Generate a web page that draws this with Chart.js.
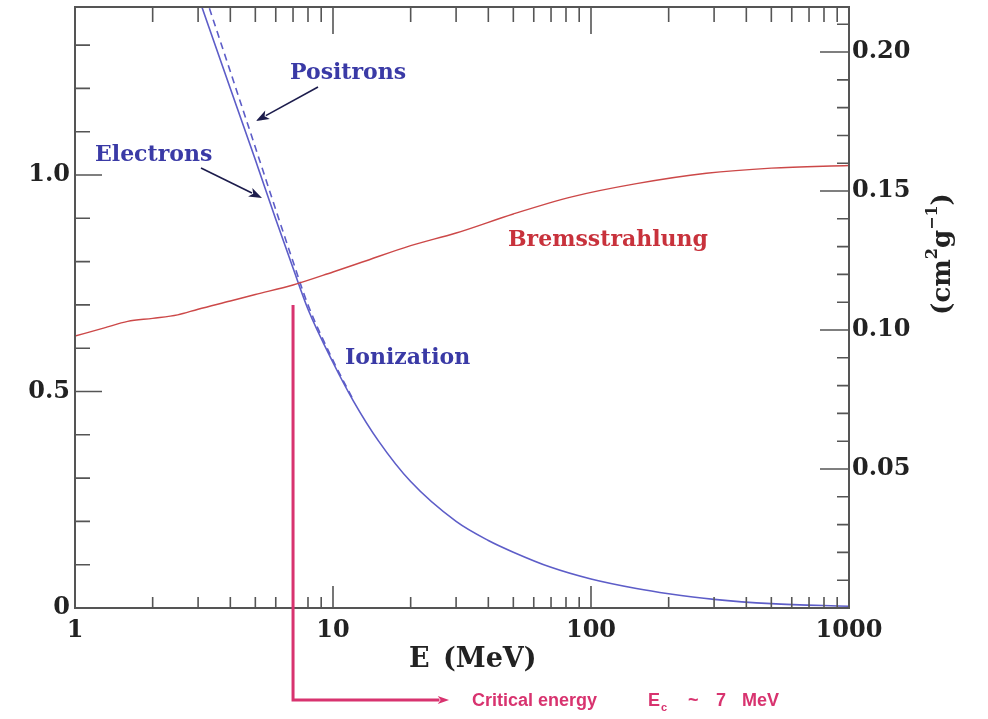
<!DOCTYPE html>
<html lang="en">
<head>
<meta charset="UTF-8">
<title>Energy loss of electrons: ionization vs bremsstrahlung</title>
<script src="https://cdn.jsdelivr.net/npm/chart.js@4.4.0/dist/chart.umd.min.js"></script>
<style>
  body { margin: 0; background: #fff; }
  canvas { display: block; }
</style>
</head>
<body>
<canvas id="lossChart" width="988" height="719"></canvas>
<script>
// energies in MeV, losses on the left scale
const ionEnergy = [3, 4, 5, 6, 7, 8, 10, 12, 15, 20, 30, 40, 50, 70, 100, 150, 200, 300, 500, 1000];
const ionElectrons = [1.413, 1.20, 1.035, 0.898, 0.785, 0.69, 0.567, 0.478, 0.386, 0.292, 0.200, 0.156, 0.129, 0.094, 0.067, 0.045, 0.033, 0.020, 0.010, 0.004];
const posEnergy = [3, 4, 5, 6, 7, 8, 10, 12];
const ionPositrons = [1.464, 1.239, 1.064, 0.92, 0.80, 0.70, 0.572, 0.480];
const bremEnergy = [1, 1.3, 1.6, 2, 2.5, 3, 4, 5, 7, 10, 13, 20, 30, 50, 85, 150, 280, 500, 1000];
const bremLoss = [0.628, 0.647, 0.662, 0.669, 0.677, 0.69, 0.709, 0.724, 0.746, 0.776, 0.799, 0.837, 0.866, 0.91, 0.95, 0.98, 1.004, 1.016, 1.022];

const xTicks = [1, 10, 100, 1000];
const yTicks = [0, 0.5, 1.0];
const y2Ticks = [0.05, 0.10, 0.15, 0.20];
const yMax = 1.388;
const y2Max = 0.2162;
const criticalEnergy = 7;
const criticalTop = 0.70;

const serif = '"DejaVu Serif", serif';
const tickFont = { family: serif, size: 24, weight: 'bold' };
const blue = '#3a3aa6';
const red = '#c8323c';
const pink = '#d8336f';

function pairs(xs, ys) {
  return xs.map((x, i) => ({ x: x, y: ys[i] }));
}

// closed frame with inward ticks on all four sides
const frameTicks = {
  id: 'frameTicks',
  afterDatasetsDraw(chart) {
    const { ctx, chartArea: a, scales } = chart;
    const x = scales.x, y = scales.y, y2 = scales.y2;
    ctx.save();
    ctx.strokeStyle = '#555';
    ctx.lineWidth = 2;
    ctx.strokeRect(a.left, a.top, a.right - a.left, a.bottom - a.top);
    ctx.lineWidth = 1.6;
    ctx.beginPath();
    for (let d = 1; d < 1000; d *= 10) {
      for (let k = 1; k <= 9; k++) {
        const v = k * d;
        if (v === 1) continue;
        const px = x.getPixelForValue(v);
        const major = k === 1;
        ctx.moveTo(px, a.bottom);
        ctx.lineTo(px, a.bottom - (major ? 22 : 11));
        ctx.moveTo(px, a.top);
        ctx.lineTo(px, a.top + (major ? 27 : 15));
      }
    }
    for (let i = 0; i <= 13; i++) {
      const py = y.getPixelForValue(i / 10);
      ctx.moveTo(a.left, py);
      ctx.lineTo(a.left + (i % 5 === 0 ? 27 : 15), py);
    }
    for (let i = 1; i <= 21; i++) {
      const py = y2.getPixelForValue(i / 100);
      ctx.moveTo(a.right, py);
      ctx.lineTo(a.right - (i % 5 === 0 ? 29 : 12), py);
    }
    ctx.stroke();
    ctx.restore();
  }
};

function arrow(ctx, x1, y1, x2, y2, color, width, head) {
  const ang = Math.atan2(y2 - y1, x2 - x1);
  ctx.strokeStyle = color;
  ctx.fillStyle = color;
  ctx.lineWidth = width;
  ctx.beginPath();
  ctx.moveTo(x1, y1);
  ctx.lineTo(x2 - Math.cos(ang) * head * 0.8, y2 - Math.sin(ang) * head * 0.8);
  ctx.stroke();
  ctx.beginPath();
  ctx.moveTo(x2, y2);
  ctx.lineTo(x2 - head * Math.cos(ang - 0.35), y2 - head * Math.sin(ang - 0.35));
  ctx.lineTo(x2 - head * 0.7 * Math.cos(ang), y2 - head * 0.7 * Math.sin(ang));
  ctx.lineTo(x2 - head * Math.cos(ang + 0.35), y2 - head * Math.sin(ang + 0.35));
  ctx.closePath();
  ctx.fill();
}

// curve labels, axis titles and the critical energy marker
const notes = {
  id: 'notes',
  afterDraw(chart) {
    const { ctx, chartArea: a, scales } = chart;
    ctx.save();
    ctx.textBaseline = 'middle';
    ctx.textAlign = 'left';

    ctx.font = 'bold 22px ' + serif;
    ctx.fillStyle = blue;
    ctx.fillText('Positrons', 290, 73);
    ctx.fillText('Electrons', 95, 155);
    ctx.fillText('Ionization', 345, 358);
    ctx.fillStyle = red;
    ctx.fillText('Bremsstrahlung', 508, 240);

    arrow(ctx, 318, 87, 256, 121, '#1c1c4c', 1.6, 14);
    arrow(ctx, 201, 168, 262, 198, '#1c1c4c', 1.6, 14);

    // x axis title
    ctx.fillStyle = '#222';
    ctx.font = 'bold 27px ' + serif;
    ctx.fillText('E', 409, 660);
    ctx.fillText('(MeV)', 443, 660);

    // right axis title, reading upwards
    ctx.translate(943, 254);
    ctx.rotate(-Math.PI / 2);
    const big = 'bold 26px ' + serif;
    const small = 'bold 16px ' + serif;
    const parts = [['(cm', big, 0], ['2', small, -10], ['g', big, 0], ['\u22121', small, -10], [')', big, 0]];
    let total = 0;
    parts.forEach(p => { ctx.font = p[1]; total += ctx.measureText(p[0]).width; });
    let tx = -total / 2;
    parts.forEach(p => {
      ctx.font = p[1];
      ctx.fillText(p[0], tx, p[2]);
      tx += ctx.measureText(p[0]).width;
    });
    ctx.setTransform(1, 0, 0, 1, 0, 0);

    // critical energy marker
    const cx = scales.x.getPixelForValue(criticalEnergy);
    const cy = scales.y.getPixelForValue(criticalTop);
    const ly = a.bottom + 92;
    ctx.strokeStyle = pink;
    ctx.lineWidth = 3;
    ctx.beginPath();
    ctx.moveTo(cx, cy);
    ctx.lineTo(cx, ly);
    ctx.lineTo(cx + 146, ly);
    ctx.stroke();
    arrow(ctx, cx + 140, ly, cx + 156, ly, pink, 2, 12);

    ctx.fillStyle = pink;
    ctx.font = 'bold 18px "Liberation Sans", Arial, sans-serif';
    ctx.fillText('Critical energy', 472, ly + 1);
    ctx.fillText('E', 648, ly + 1);
    ctx.fillText('~', 688, ly + 1);
    ctx.fillText('7', 716, ly + 1);
    ctx.fillText('MeV', 742, ly + 1);
    ctx.font = 'bold 11px "Liberation Sans", Arial, sans-serif';
    ctx.fillText('c', 661, ly + 8);
    ctx.restore();
  }
};

new Chart(document.getElementById('lossChart'), {
  type: 'line',
  data: {
    datasets: [
      {
        label: 'Bremsstrahlung',
        data: pairs(bremEnergy, bremLoss),
        borderColor: '#cc4848',
        borderWidth: 1.4,
        pointRadius: 0,
        cubicInterpolationMode: 'monotone',
        yAxisID: 'y'
      },
      {
        label: 'Ionization (electrons)',
        data: pairs(ionEnergy, ionElectrons),
        borderColor: '#5d5dc8',
        borderWidth: 1.6,
        pointRadius: 0,
        cubicInterpolationMode: 'monotone',
        yAxisID: 'y'
      },
      {
        label: 'Ionization (positrons)',
        data: pairs(posEnergy, ionPositrons),
        borderColor: '#5d5dc8',
        borderWidth: 1.6,
        borderDash: [7, 5],
        pointRadius: 0,
        cubicInterpolationMode: 'monotone',
        yAxisID: 'y'
      }
    ]
  },
  options: {
    responsive: false,
    animation: false,
    devicePixelRatio: 1,
    layout: { padding: { top: 7, left: 0, right: 0, bottom: 0 } },
    plugins: {
      legend: { display: false },
      tooltip: { enabled: false }
    },
    scales: {
      x: {
        type: 'logarithmic',
        position: 'bottom',
        min: 1,
        max: 1000,
        grid: { display: false, drawTicks: false },
        border: { display: false },
        afterBuildTicks: s => { s.ticks = xTicks.map(v => ({ value: v })); },
        afterFit: s => { s.height = 111; s.paddingLeft = 0; s.paddingRight = 0; },
        ticks: {
          padding: 8,
          color: '#222',
          font: tickFont,
          autoSkip: false,
          maxRotation: 0,
          callback: v => String(v)
        }
      },
      y: {
        position: 'left',
        min: 0,
        max: yMax,
        grid: { display: false, drawTicks: false },
        border: { display: false },
        afterBuildTicks: s => { s.ticks = yTicks.map(v => ({ value: v })); },
        afterFit: s => { s.width = 75; s.paddingTop = 0; s.paddingBottom = 0; },
        ticks: {
          padding: 5,
          color: '#222',
          font: tickFont,
          callback: v => v === 0 ? '0' : v.toFixed(1)
        }
      },
      y2: {
        position: 'right',
        min: 0,
        max: y2Max,
        grid: { display: false, drawTicks: false },
        border: { display: false },
        afterBuildTicks: s => { s.ticks = y2Ticks.map(v => ({ value: v })); },
        afterFit: s => { s.width = 139; s.paddingTop = 0; s.paddingBottom = 0; },
        ticks: {
          padding: 3,
          color: '#222',
          font: tickFont,
          callback: v => v.toFixed(2)
        }
      }
    }
  },
  plugins: [frameTicks, notes]
});
</script>
</body>
</html>
